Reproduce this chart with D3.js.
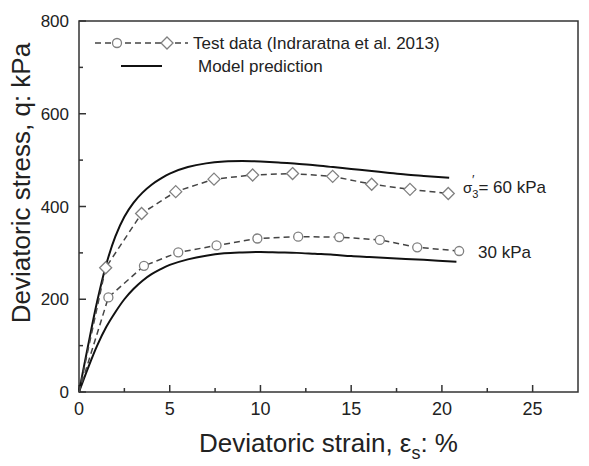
<!DOCTYPE html>
<html>
<head>
<meta charset="utf-8">
<script src="https://cdn.jsdelivr.net/npm/d3@7"></script>
<style>
  body { margin: 0; background: #fff; }
  text { font-family: "Liberation Sans", Arial, sans-serif; fill: #222; }
</style>
</head>
<body>
<svg id="chart" width="589" height="466"></svg>
<script>
// test data (Indraratna et al. 2013)
var strain60 = [0, 1.47, 3.45, 5.33, 7.44, 9.57, 11.77, 13.98, 16.13, 18.24, 20.35];
var stress60 = [0, 268, 385, 432, 459, 468, 471, 465, 448, 437, 428];
var strain30 = [0, 1.62, 3.58, 5.47, 7.58, 9.83, 12.08, 14.34, 16.58, 18.64, 20.95];
var stress30 = [0, 204, 272, 301, 316, 331, 335, 334, 328, 312, 304];

// model prediction
var modelStrain60 = [0, 0.5, 1.0, 1.5, 2.0, 2.5, 3.0, 3.5, 4.0, 4.5, 5.0, 6.0, 7.0, 8.0, 9.0, 10, 11, 12, 13, 14, 15, 16, 17, 18, 19, 20.4];
var modelStress60 = [0, 100, 195, 275, 335, 378, 408, 430, 447, 460, 471, 485, 493, 497, 498, 497, 495, 492, 489, 485, 481, 477, 473, 469, 466, 462];
var modelStrain30 = [0, 0.5, 1.0, 1.5, 2.0, 2.5, 3.0, 3.5, 4.0, 4.5, 5.0, 6.0, 7.0, 8.0, 9.0, 10, 11, 12, 13, 14, 15, 16, 17, 18, 19, 20.8];
var modelStress30 = [0, 52, 100, 140, 172, 200, 222, 240, 254, 265, 274, 286, 294, 299, 301, 302, 301, 300, 298, 296, 293, 291, 289, 287, 285, 281];

var xTicks = [0, 5, 10, 15, 20, 25];
var xMinor = [2.5, 7.5, 12.5, 17.5, 22.5];
var yTicks = [0, 200, 400, 600, 800];
var yMinor = [100, 300, 500, 700];

var svg = d3.select('#chart');
var plotL = 79, plotR = 578, plotT = 21, plotB = 392;

var x = d3.scaleLinear().domain([0, 27.5]).range([plotL, plotR]);
var y = d3.scaleLinear().domain([0, 800]).range([plotB, plotT]);

var axisColor = '#333';

// frame
svg.append('rect')
    .attr('x', plotL).attr('y', plotT)
    .attr('width', plotR - plotL).attr('height', plotB - plotT)
    .attr('fill', 'none').attr('stroke', axisColor).attr('stroke-width', 1.5);

// ticks (inward)
var tickG = svg.append('g').attr('stroke', axisColor).attr('stroke-width', 1.5);
xTicks.forEach(function (t) {
    tickG.append('line').attr('x1', x(t)).attr('x2', x(t)).attr('y1', plotB).attr('y2', plotB - 7);
});
xMinor.forEach(function (t) {
    tickG.append('line').attr('x1', x(t)).attr('x2', x(t)).attr('y1', plotB).attr('y2', plotB - 4);
});
yTicks.forEach(function (t) {
    tickG.append('line').attr('x1', plotL).attr('x2', plotL + 7).attr('y1', y(t)).attr('y2', y(t));
});
yMinor.forEach(function (t) {
    tickG.append('line').attr('x1', plotL).attr('x2', plotL + 4).attr('y1', y(t)).attr('y2', y(t));
});

// tick labels
svg.append('g').selectAll('text').data(xTicks).join('text')
    .attr('x', function (d) { return x(d); })
    .attr('y', 415)
    .attr('text-anchor', 'middle')
    .attr('font-size', 18)
    .text(function (d) { return d; });

svg.append('g').selectAll('text').data(yTicks).join('text')
    .attr('x', 69)
    .attr('y', function (d) { return y(d) + 6; })
    .attr('text-anchor', 'end')
    .attr('font-size', 17)
    .text(function (d) { return d; });

// axis titles
var xt = svg.append('text')
    .attr('x', (plotL + plotR) / 2)
    .attr('y', 452)
    .attr('text-anchor', 'middle')
    .attr('font-size', 26);
xt.append('tspan').text('Deviatoric strain, ε');
xt.append('tspan').attr('dy', 7).attr('font-size', 18).text('s');
xt.append('tspan').attr('dy', -7).text(': %');

svg.append('text')
    .attr('transform', 'translate(30,183) rotate(-90)')
    .attr('text-anchor', 'middle')
    .attr('font-size', 26)
    .text('Deviatoric stress, q: kPa');

// model curves
var modelLine = d3.line()
    .x(function (d) { return x(d[0]); })
    .y(function (d) { return y(d[1]); })
    .curve(d3.curveCatmullRom);

[[modelStrain60, modelStress60], [modelStrain30, modelStress30]].forEach(function (s) {
    svg.append('path')
        .datum(d3.zip(s[0], s[1]))
        .attr('d', modelLine)
        .attr('fill', 'none')
        .attr('stroke', '#111')
        .attr('stroke-width', 2);
});

// test data
var testLine = d3.line()
    .x(function (d) { return x(d[0]); })
    .y(function (d) { return y(d[1]); });

var dash = '6,4';
var markerStroke = '#808080';

var pts60 = d3.zip(strain60, stress60);
var pts30 = d3.zip(strain30, stress30);

[pts60, pts30].forEach(function (p) {
    svg.append('path')
        .datum(p)
        .attr('d', testLine)
        .attr('fill', 'none')
        .attr('stroke', '#444')
        .attr('stroke-width', 1.5)
        .attr('stroke-dasharray', dash);
});

var diamond = 'M0,-6L6,0L0,6L-6,0Z';

svg.append('g').selectAll('path').data(pts60.slice(1)).join('path')
    .attr('d', diamond)
    .attr('transform', function (d) { return 'translate(' + x(d[0]) + ',' + y(d[1]) + ')'; })
    .attr('fill', '#fff')
    .attr('stroke', markerStroke)
    .attr('stroke-width', 1.3);

svg.append('g').selectAll('circle').data(pts30.slice(1)).join('circle')
    .attr('cx', function (d) { return x(d[0]); })
    .attr('cy', function (d) { return y(d[1]); })
    .attr('r', 4.5)
    .attr('fill', '#fff')
    .attr('stroke', markerStroke)
    .attr('stroke-width', 1.3);

// curve labels
var lab60 = svg.append('text').attr('x', 463).attr('y', 193).attr('font-size', 17);
lab60.append('tspan').attr('font-size', 15).text('σ');
lab60.append('tspan').attr('dy', 5).attr('font-size', 11).text('3');
lab60.append('tspan').attr('dy', -5).text('= 60 kPa');
svg.append('text').attr('x', 472).attr('y', 184).attr('font-size', 13).text('′');

svg.append('text').attr('x', 478).attr('y', 258).attr('font-size', 17).text('30 kPa');

// legend
svg.append('line')
    .attr('x1', 95).attr('x2', 188).attr('y1', 43).attr('y2', 43)
    .attr('stroke', '#444').attr('stroke-width', 1.5).attr('stroke-dasharray', dash);
svg.append('circle')
    .attr('cx', 117).attr('cy', 43).attr('r', 4.5)
    .attr('fill', '#fff').attr('stroke', markerStroke).attr('stroke-width', 1.3);
svg.append('path')
    .attr('d', diamond)
    .attr('transform', 'translate(167,43)')
    .attr('fill', '#fff').attr('stroke', markerStroke).attr('stroke-width', 1.3);
svg.append('text').attr('x', 193).attr('y', 49).attr('font-size', 17)
    .text('Test data (Indraratna et al. 2013)');

svg.append('line')
    .attr('x1', 121).attr('x2', 162).attr('y1', 66).attr('y2', 66)
    .attr('stroke', '#111').attr('stroke-width', 2);
svg.append('text').attr('x', 198).attr('y', 72).attr('font-size', 17)
    .text('Model prediction');
</script>
</body>
</html>
